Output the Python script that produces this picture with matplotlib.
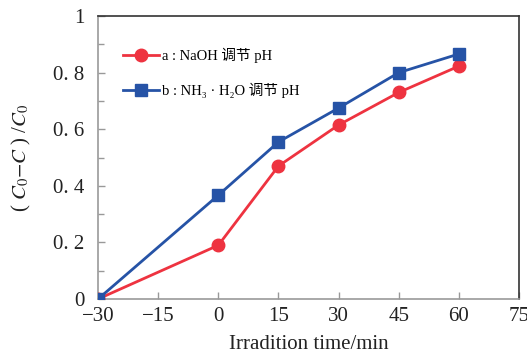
import matplotlib
matplotlib.use('Agg')
import matplotlib.pyplot as plt
from matplotlib.ticker import MultipleLocator, FixedLocator

plt.rcParams['font.family'] = ['Liberation Serif', 'Noto Sans CJK SC', 'DejaVu Serif']
plt.rcParams['mathtext.fontset'] = 'stix'

# data
time_min = [-30, 0, 15, 30, 45, 60]
naoh_ratio = [0.0, 0.19, 0.47, 0.615, 0.73, 0.823]
nh3_ratio = [0.0, 0.367, 0.555, 0.675, 0.80, 0.866]
x_ticks = [-30, -15, 0, 15, 30, 45, 60, 75]
x_tick_labels = ['\u221230', '\u221215', '0', '15', '30', '45', '60', '75']
y_ticks = [0, 0.2, 0.4, 0.6, 0.8, 1.0]
y_tick_labels = ['0', '0. 2', '0. 4', '0. 6', '0. 8', '1']
series_labels = ['a : NaOH 调节 pH', 'b : NH\u2083 \u00b7 H\u2082O 调节 pH']

red = '#ee3340'
blue = '#2653a6'

fig = plt.figure(figsize=(5.27, 3.56), dpi=100)
ax = fig.add_axes([0.186, 0.160, 0.799, 0.795])

ax.plot(time_min, naoh_ratio, color=red, lw=2.0, marker='o', ms=9,
        markerfacecolor=red, markeredgecolor=red, label=series_labels[0], zorder=3)
ax.plot(time_min, nh3_ratio, color=blue, lw=2.0, marker='s', ms=9,
        markerfacecolor=blue, markeredgecolor=blue, label=series_labels[1], zorder=4)

ax.set_xlim(-30, 75)
ax.set_ylim(0, 1)
ax.xaxis.set_major_locator(FixedLocator(x_ticks))
ax.set_xticklabels(x_tick_labels)
ax.set_yticks(y_ticks)
ax.set_yticklabels(y_tick_labels)
ax.yaxis.set_minor_locator(MultipleLocator(0.1))

ax.tick_params(axis='both', which='both', direction='in', colors='#999999',
               labelcolor='#222222', labelsize=15)
ax.tick_params(axis='both', which='major', length=5, width=1)
ax.tick_params(axis='y', which='minor', length=4, width=1)
ax.tick_params(axis='x', pad=6)
ax.tick_params(axis='y', pad=10)

for side in ['left', 'bottom']:
    ax.spines[side].set_color('#999999')
    ax.spines[side].set_linewidth(1.2)
for side in ['top', 'right']:
    ax.spines[side].set_color('#333333')
    ax.spines[side].set_linewidth(1.2)

ax.set_xlabel('Irradition time/min', fontsize=15, color='#222222', labelpad=6)
ax.set_ylabel(r'( $C_0$$-$$C$ ) /$C_0$', fontsize=15, color='#222222', labelpad=14)

leg = ax.legend(loc='upper left', bbox_to_anchor=(0.045, 0.91), frameon=False,
                fontsize=10.5, handlelength=2.5, handletextpad=0.2, labelspacing=1.4,
                borderaxespad=0)

fig.savefig('out.png', dpi=100)
